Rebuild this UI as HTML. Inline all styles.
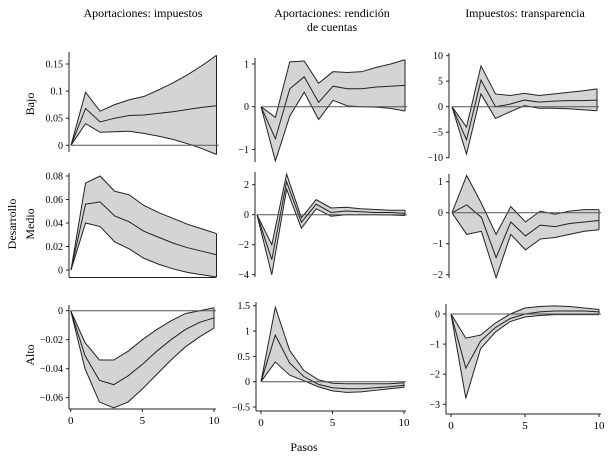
<!DOCTYPE html>
<html><head><meta charset="utf-8">
<style>
html,body{margin:0;padding:0;background:#fff;}
svg{display:block;font-family:"Liberation Serif",serif;}
</style></head>
<body>
<svg id="chart" width="609" height="457" viewBox="0 0 609 457" xmlns="http://www.w3.org/2000/svg">
<text x="143" y="17" font-size="12" text-anchor="middle">Aportaciones: impuestos</text>
<text x="332" y="17" font-size="12" text-anchor="middle">Aportaciones: rendición</text>
<text x="332" y="31" font-size="12" text-anchor="middle">de cuentas</text>
<text x="525" y="17" font-size="12" text-anchor="middle">Impuestos: transparencia</text>
<text transform="translate(34,104) rotate(-90)" font-size="12" text-anchor="middle">Bajo</text>
<text transform="translate(16,224) rotate(-90)" font-size="12" text-anchor="middle">Desarrollo</text>
<text transform="translate(34,224) rotate(-90)" font-size="12" text-anchor="middle">Medio</text>
<text transform="translate(34,355) rotate(-90)" font-size="12" text-anchor="middle">Alto</text>
<text x="304" y="451" font-size="12" text-anchor="middle">Pasos</text>
</svg>
<script>
const steps=[0,1,2,3,4,5,6,7,8,9,10];
const xTicks=[0,5,10];
// Row Bajo
const midBajoImp=[0,0.068,0.043,0.05,0.055,0.056,0.059,0.062,0.066,0.07,0.073];
const upBajoImp=[0,0.098,0.063,0.075,0.084,0.09,0.102,0.115,0.13,0.147,0.166];
const loBajoImp=[0,0.04,0.024,0.025,0.026,0.022,0.017,0.011,0.003,-0.006,-0.017];
const ticksBajoImp=[0,0.05,0.1,0.15];
const labelsBajoImp=["0","0.05","0.1","0.15"];
const midBajoRen=[0,-0.75,0.42,0.7,0.1,0.48,0.42,0.42,0.46,0.48,0.5];
const upBajoRen=[0,-0.25,1.05,1.07,0.55,0.82,0.8,0.82,0.92,1.0,1.1];
const loBajoRen=[0,-1.27,-0.22,0.34,-0.3,0.15,0.02,0.0,-0.01,-0.04,-0.1];
const ticksBajoRen=[-1,0,1];
const labelsBajoRen=["−1","0","1"];
const midBajoTra=[0,-6.5,5.2,0,0.5,1.3,0.9,1.1,1.2,1.2,1.3];
const upBajoTra=[0,-4,8,2.5,2.2,2.6,2.2,2.5,2.8,3.1,3.5];
const loBajoTra=[0,-9.3,2.5,-2.3,-1.0,0.2,-0.3,-0.3,-0.4,-0.6,-0.8];
const ticksBajoTra=[-10,-5,0,5,10];
const labelsBajoTra=["−10","−5","0","5","10"];
// Row Medio
const midMedImp=[0,0.056,0.058,0.046,0.041,0.033,0.028,0.023,0.019,0.016,0.013];
const upMedImp=[0,0.074,0.08,0.067,0.064,0.055,0.049,0.044,0.039,0.035,0.031];
const loMedImp=[0,0.04,0.037,0.024,0.018,0.01,0.005,0.001,-0.002,-0.004,-0.006];
const ticksMedImp=[0,0.02,0.04,0.06,0.08];
const labelsMedImp=["0","0.02","0.04","0.06","0.08"];
const midMedRen=[0,-3.0,2.2,-0.5,0.7,0.15,0.25,0.2,0.15,0.15,0.1];
const upMedRen=[0,-2.0,2.7,-0.2,1.0,0.45,0.5,0.4,0.35,0.3,0.3];
const loMedRen=[0,-4.0,1.7,-0.9,0.4,-0.1,0.0,0.0,0.0,-0.02,-0.05];
const ticksMedRen=[-4,-2,0,2];
const labelsMedRen=["−4","−2","0","2"];
const midMedTra=[0,0.25,-0.15,-1.45,-0.3,-0.75,-0.4,-0.45,-0.35,-0.3,-0.25];
const upMedTra=[0,1.2,0.3,-0.7,0.2,-0.3,0.05,-0.05,0.05,0.1,0.1];
const loMedTra=[0,-0.7,-0.6,-2.1,-0.7,-1.2,-0.85,-0.8,-0.7,-0.6,-0.55];
const ticksMedTra=[-2,-1,0,1];
const labelsMedTra=["−2","−1","0","1"];
// Row Alto
const midAltImp=[0,-0.031,-0.048,-0.051,-0.045,-0.037,-0.028,-0.02,-0.013,-0.008,-0.005];
const upAltImp=[0,-0.022,-0.034,-0.034,-0.028,-0.02,-0.013,-0.007,-0.002,0.0,0.002];
const loAltImp=[0,-0.04,-0.063,-0.067,-0.063,-0.054,-0.044,-0.034,-0.025,-0.018,-0.012];
const ticksAltImp=[-0.06,-0.04,-0.02,0];
const labelsAltImp=["−0.06","−0.04","−0.02","0"];
const midAltRen=[0,0.92,0.37,0.1,-0.05,-0.12,-0.14,-0.14,-0.12,-0.1,-0.07];
const upAltRen=[0,1.47,0.62,0.22,0.04,-0.03,-0.04,-0.04,-0.04,-0.04,-0.02];
const loAltRen=[0,0.39,0.13,0.02,-0.1,-0.18,-0.21,-0.2,-0.17,-0.14,-0.11];
const ticksAltRen=[-0.5,0,0.5,1,1.5];
const labelsAltRen=["−0.5","0","0.5","1","1.5"];
const midAltTra=[0,-1.8,-0.9,-0.45,-0.15,0.0,0.07,0.1,0.1,0.1,0.07];
const upAltTra=[0,-0.8,-0.7,-0.3,0.0,0.2,0.25,0.27,0.25,0.2,0.15];
const loAltTra=[0,-2.8,-1.15,-0.6,-0.25,-0.1,-0.05,-0.02,-0.02,-0.02,-0.02];
const ticksAltTra=[-3,-2,-1,0];
const labelsAltTra=["−3","−2","−1","0"];

const svg=document.getElementById('chart');
const NS='http://www.w3.org/2000/svg';
function mk(tag,attrs){const e=document.createElementNS(NS,tag);for(const k in attrs)e.setAttribute(k,attrs[k]);svg.appendChild(e);return e;}

function panel(name,geo,mid,up,lo,ticks,labels,opts){
  const xs=v=>geo.x0+(geo.x10-geo.x0)*v/10;
  const ys=v=>geo.p1+(geo.p2-geo.p1)*(v-geo.v1)/(geo.v2-geo.v1);
  let d='M'+steps.map((s,i)=>xs(s)+','+ys(up[i])).join('L');
  d+='L'+steps.slice().reverse().map((s,j)=>{const i=steps.length-1-j;return xs(s)+','+ys(lo[i]);}).join('L')+'Z';
  const band=mk('path',{d:d,fill:'#d4d4d4',stroke:'none'});
  
  
  const lu=mk('polyline',{points:steps.map((s,i)=>xs(s)+','+ys(up[i])).join(' '),fill:'none',stroke:'#222','stroke-width':1});
  
  
  const ll=mk('polyline',{points:steps.map((s,i)=>xs(s)+','+ys(lo[i])).join(' '),fill:'none',stroke:'#222','stroke-width':1});
  
  
  const lm=mk('polyline',{points:steps.map((s,i)=>xs(s)+','+ys(mid[i])).join(' '),fill:'none',stroke:'#222','stroke-width':1});
  
  
  // right edge
  const re=mk('line',{x1:xs(10),x2:xs(10),y1:ys(up[10]),y2:ys(lo[10]),stroke:'#222','stroke-width':1});
  
  
  if(!opts.noZero){
    const z=mk('line',{x1:xs(0),x2:xs(10)+2,y1:ys(0),y2:ys(0),stroke:'#555','stroke-width':1});
    
    
  }
  const ya=mk('line',{x1:geo.ax,x2:geo.ax,y1:geo.top,y2:geo.bot,stroke:'#222','stroke-width':1});
  
  
  ticks.forEach((t,i)=>{
    const tl=mk('line',{x1:geo.ax-3,x2:geo.ax,y1:ys(t),y2:ys(t),stroke:'#222','stroke-width':1});
    
    
    const tx=mk('text',{x:geo.ax-6,y:ys(t)+3.5,'font-size':10,'text-anchor':'end'});
    tx.textContent=labels[i];
    
    
  });
  if(opts.bottomLine){
    const bl=mk('line',{x1:geo.ax,x2:xs(10),y1:geo.bot,y2:geo.bot,stroke:'#222','stroke-width':1});
    
    
  }
  if(opts.xAxis){
    const xa=mk('line',{x1:geo.ax,x2:xs(10)+2,y1:geo.bot,y2:geo.bot,stroke:'#222','stroke-width':1});
    
    
    xTicks.forEach(t=>{
      const tl=mk('line',{x1:xs(t),x2:xs(t),y1:geo.bot,y2:geo.bot+3,stroke:'#222','stroke-width':1});
      
      
      const tx=mk('text',{x:xs(t),y:geo.bot+15,'font-size':11,'text-anchor':'middle'});
      tx.textContent=String(t);
      
      
    });
  }
}

panel('bajo-impuestos',{x0:71,x10:216.5,ax:69,top:52,bot:152,v1:0,p1:145.3,v2:0.15,p2:64},midBajoImp,upBajoImp,loBajoImp,ticksBajoImp,labelsBajoImp,{});
panel('bajo-rendicion',{x0:261,x10:405,ax:255,top:58,bot:162,v1:0,p1:106.7,v2:1,p2:64},midBajoRen,upBajoRen,loBajoRen,ticksBajoRen,labelsBajoRen,{});
panel('bajo-transparencia',{x0:452,x10:597,ax:449,top:53,bot:158,v1:0,p1:106.7,v2:10,p2:55.7},midBajoTra,upBajoTra,loBajoTra,ticksBajoTra,labelsBajoTra,{});
panel('medio-impuestos',{x0:71,x10:216.5,ax:69,top:173,bot:277.5,v1:0,p1:270,v2:0.08,p2:176},midMedImp,upMedImp,loMedImp,ticksMedImp,labelsMedImp,{noZero:true,bottomLine:true});
panel('medio-rendicion',{x0:257,x10:405,ax:255,top:172,bot:277,v1:0,p1:214.7,v2:2,p2:184.7},midMedRen,upMedRen,loMedRen,ticksMedRen,labelsMedRen,{});
panel('medio-transparencia',{x0:452,x10:599,ax:449,top:174,bot:278,v1:0,p1:212.7,v2:1,p2:181.7},midMedTra,upMedTra,loMedTra,ticksMedTra,labelsMedTra,{});
panel('alto-impuestos',{x0:70.7,x10:214,ax:69,top:305,bot:409,v1:0,p1:310.7,v2:-0.06,p2:397.7},midAltImp,upAltImp,loAltImp,ticksAltImp,labelsAltImp,{xAxis:true});
panel('alto-rendicion',{x0:261,x10:404,ax:256,top:302,bot:411,v1:0,p1:381.7,v2:1.5,p2:305.7},midAltRen,upAltRen,loAltRen,ticksAltRen,labelsAltRen,{xAxis:true});
panel('alto-transparencia',{x0:451,x10:599,ax:446,top:304,bot:414,v1:0,p1:314,v2:-3,p2:404.3},midAltTra,upAltTra,loAltTra,ticksAltTra,labelsAltTra,{xAxis:true});
</script>
</body></html>
